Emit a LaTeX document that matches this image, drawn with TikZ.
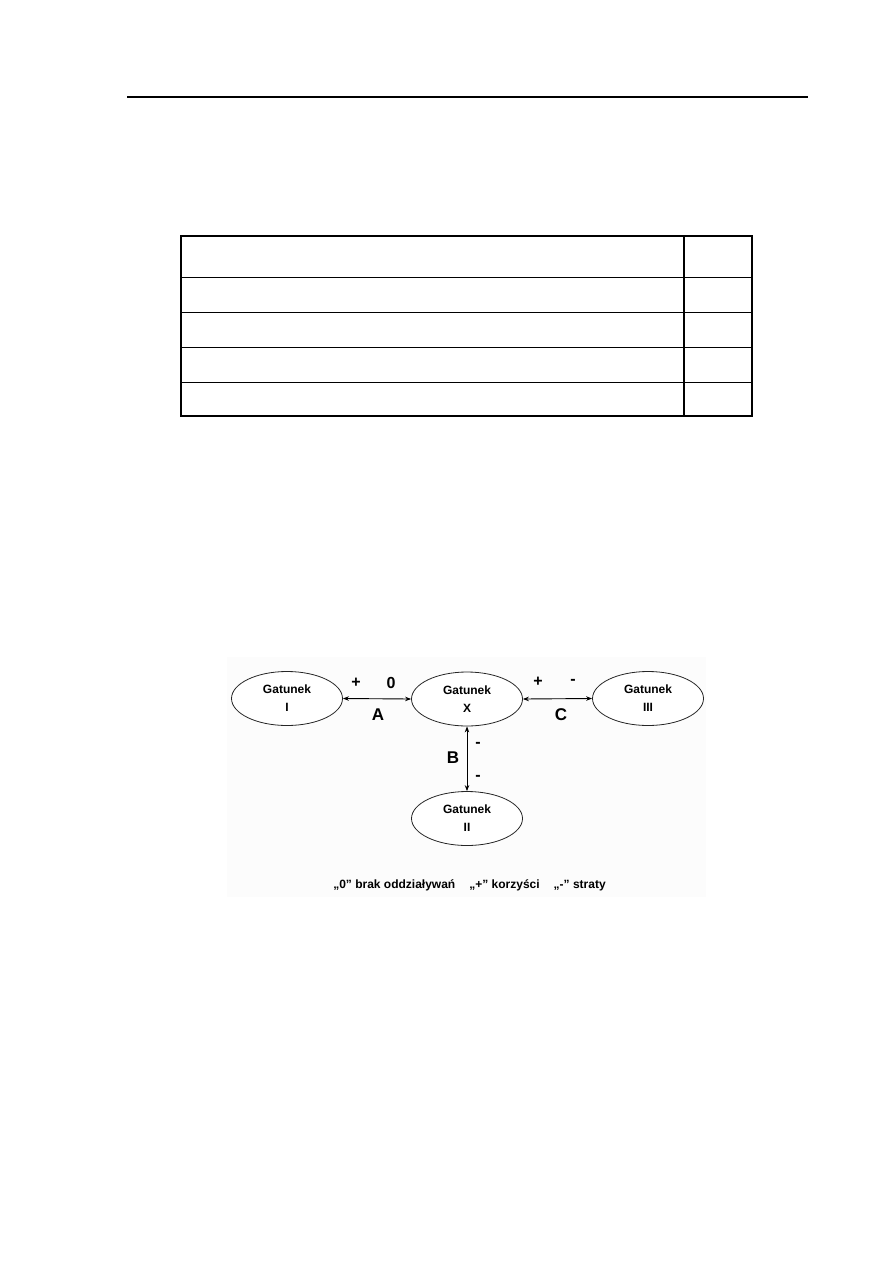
\documentclass[tikz,border=0pt]{standalone}
\usepackage{fontspec}
\setmainfont{Liberation Sans}
\usetikzlibrary{shapes.geometric,arrows.meta}
\tikzset{
  species/.style={draw=black!85, line width=0.8pt, ellipse, minimum width=111pt, minimum height=54pt, inner sep=0pt, align=center, font=\fontsize{12}{18}\selectfont\bfseries, fill=white},
  link/.style={line width=0.9pt, {Stealth[length=6pt,width=4.5pt]}-{Stealth[length=6pt,width=4.5pt]}},
  biglabel/.style={font=\fontsize{17}{18}\selectfont\bfseries, inner sep=0pt},
  signlabel/.style={font=\fontsize{16}{18}\selectfont\bfseries, inner sep=0pt},
  tableline/.style={line width=1.1pt},
}
\begin{document}
\begin{tikzpicture}[x=1pt,y=-1pt]
\useasboundingbox[fill=white] (0,0) rectangle (893,1263);
% header rule
\draw[line width=1.3pt] (127,97) coordinate (hl) -- (808,97) coordinate (hr);
% table
\draw[tableline] (181,236) rectangle (752,416);
\draw[tableline] (684,236) -- (684,416);
\foreach \yy in {277.5,312.5,347.5,382.5} \draw[tableline] (181,\yy) -- (752,\yy);
% diagram background
\fill[black!1.2] (227,657) rectangle (706,897);
% species
\node[species] (s1) at (287,698.5) {Gatunek\\I};
\node[species] (sx) at (467,699) {Gatunek\\X};
\node[species] (s3) at (648,698.5) {Gatunek\\III};
\node[species] (s2) at (467,818.5) {Gatunek\\II};
% connectors
\draw[link] (s1.east) -- (sx.west);
\draw[link] (sx.east) -- (s3.west);
\draw[link] (sx.south) -- (s2.north);
% labels
\node[signlabel] (p1) at (356,683) {+};
\node[signlabel] (z1) at (391,683) {0};
\node[biglabel] (la) at (378,715) {A};
\node[signlabel] (p3) at (538,682) {+};
\node[signlabel] (m3) at (573,682) {-};
\node[biglabel] (lc) at (561,715) {C};
\node[biglabel] (lb) at (453,758) {B};
\node[signlabel] (m2a) at (478,745) {-};
\node[signlabel] (m2b) at (478,778) {-};
% legend
\node[font=\fontsize{12}{14}\selectfont\bfseries, inner sep=0pt] (leg) at (469.5,885) {„0” brak oddziaływań\hspace{14pt}„+” korzyści\hspace{14pt}„{-}” straty};
\end{tikzpicture}
\end{document}
